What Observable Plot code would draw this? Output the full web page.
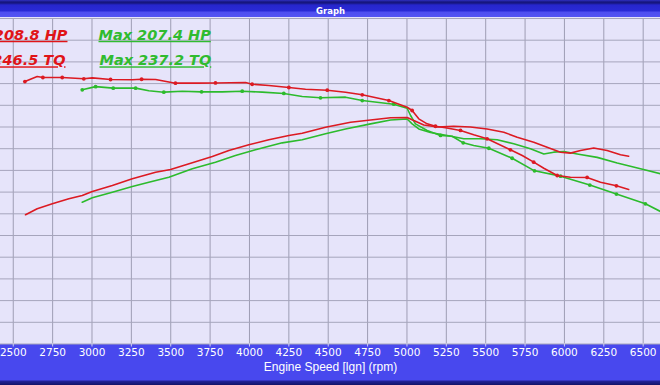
<!DOCTYPE html>
<html><head><meta charset="utf-8">
<script src="https://cdn.jsdelivr.net/npm/d3@7"></script>
<script src="https://cdn.jsdelivr.net/npm/@observablehq/plot@0.6"></script>
<style>
html,body{margin:0;padding:0;background:#e6e4fa;}
body{width:660px;height:385px;overflow:hidden;}
#chart{position:relative;width:660px;height:385px;
background: linear-gradient(to bottom, #3030c0 0px, #16167e 2px, #16167e 3px, #2626cc 5px, #2a2ad6 11px, #4e4ef0 12px, #5454f2 17px, #e6e4fa 17px, #e6e4fa 344px, #4848ee 344px, #4848ee 380px, #22229a 381px, #121266 385px);}
</style></head><body><div id="chart"></div>
<script>
// Engine speed ticks (rpm) and y grid (HP / lb-ft)
const xTicks = d3.range(2500, 6501, 250);
const yTicks = d3.range(0, 301, 20);

// Red run – torque
const redTqRpm = [2574,2652,2688,2811,2948,3002,3118,3256,3315,3404,3530,3668,3784,3975,4017,4123,4250,4356,4494,4610,4716,4885,5001,5033,5075,5128,5181,5245,5340,5424,5509,5657,5732,5805,5869,5954,6038,6144,6229,6330,6408];
const redTq = [241.9,246.5,245.6,245.6,244.4,245.3,243.8,243.5,244.0,243.8,240.4,240.4,240.6,241.0,239.4,238.2,236.4,234.8,233.9,232.1,229.7,224.4,218.2,215.2,207.5,202.9,200.7,199.3,196.8,192.8,189.1,179.0,173.7,167.6,162.0,155.3,153.7,153.5,149.1,145.8,142.4];
const redTqMarkRpm = [2574,2688,2811,2948,3118,3315,3530,3784,4017,4250,4494,4716,4885,5033,5181,5340,5509,5657,5805,5954,6144,6330];

// Red run – horsepower
const redHpRpm = [2578,2652,2748,2853,2938,3002,3129,3256,3404,3499,3637,3764,3869,3996,4123,4250,4335,4483,4610,4642,4769,4896,5001,5043,5107,5192,5297,5403,5509,5615,5700,5805,5890,5975,6038,6102,6186,6271,6356,6408];
const redHp = [119.1,124.6,129.2,133.8,136.9,140.6,146.1,152.3,158.3,160.8,167.0,172.8,178.3,183.6,188.2,192.2,194.3,199.8,203.5,204.4,206.5,208.5,208.8,206.0,201.8,200.0,200.7,200.0,198.2,195.2,190.6,186.0,181.4,176.8,175.9,178.3,180.6,178.3,174.4,173.1];

// Green run – torque
const greenTqRpm = [2938,3023,3135,3277,3361,3456,3573,3696,3827,3954,4081,4218,4335,4451,4610,4716,4916,5001,5023,5054,5128,5213,5287,5357,5424,5520,5668,5810,5975,6161,6330,6514,6610];
const greenTq = [234.3,237.2,235.8,235.8,233.4,232.1,233.0,232.4,232.4,233.0,232.1,230.9,228.1,226.9,227.5,224.4,221.0,217.3,210.6,202.9,196.8,192.2,191.5,185.4,182.9,180.4,171.2,159.6,154.7,146.5,138.2,129.2,122.1];
const greenTqMarkRpm = [2938,3023,3135,3277,3456,3696,3954,4218,4451,4716,4916,5213,5357,5520,5668,5810,5975,6161,6330,6514];

// Green run – horsepower
const greenHpRpm = [2938,3002,3129,3256,3361,3488,3637,3784,3911,4038,4208,4335,4483,4610,4769,4896,5001,5033,5075,5149,5256,5361,5467,5573,5678,5784,5869,5932,5996,6081,6208,6335,6483,6610];
const greenHp = [130.7,134.7,139.9,145.2,149.1,153.7,161.5,167.6,173.7,179.0,185.4,188.2,193.7,198.2,202.9,206.5,207.4,202.9,198.2,195.0,192.2,189.2,189.2,188.2,184.5,179.9,175.1,176.8,177.4,175.1,172.0,166.8,161.5,156.9];

const redLabels = ["Max 208.8 HP", "Max 246.5 TQ"];
const greenLabels = ["Max 207.4 HP", "Max 237.2 TQ"];
const title = "Graph";
const xLabel = "Engine Speed [lgn] (rpm)";

const RED = "#dc1a22", GREEN = "#2cbb2c";
const rows = (rpm, val) => rpm.map((r, i) => ({rpm: r, value: val[i]}));
const redTqRows = rows(redTqRpm, redTq), redHpRows = rows(redHpRpm, redHp);
const greenTqRows = rows(greenTqRpm, greenTq), greenHpRows = rows(greenHpRpm, greenHp);
const redMarks = redTqRows.filter(d => redTqMarkRpm.includes(d.rpm));
const greenMarks = greenTqRows.filter(d => greenTqMarkRpm.includes(d.rpm));

const annFont = {fontFamily: "DejaVu Sans", fontSize: 14.5, fontWeight: "bold", fontStyle: "italic", frameAnchor: "top-left"};

const chart = Plot.plot({
  width: 660, height: 385,
  marginTop: 18, marginBottom: 41.5, marginLeft: 0, marginRight: 0,
  style: {background: "transparent", color: "white", fontFamily: "DejaVu Sans", overflow: "visible"},
  x: {domain: [2419, 6610]},
  y: {domain: [0, 300], axis: null},
  marks: [
    Plot.gridX(xTicks, {stroke: "#9e9db4", strokeOpacity: 1}),
    Plot.gridY(yTicks, {stroke: "#a6a5bc", strokeOpacity: 1}),
    Plot.axisX(xTicks, {tickSize: 3, tickPadding: 2, fontSize: 10.5, label: null, tickFormat: d => String(d), stroke: "#d0d0ee"}),
    Plot.line(greenTqRows, {x: "rpm", y: "value", stroke: GREEN, strokeWidth: 1.6, clip: true}),
    Plot.line(greenHpRows, {x: "rpm", y: "value", stroke: GREEN, strokeWidth: 1.6, clip: true}),
    Plot.dot(greenMarks, {x: "rpm", y: "value", r: 1.9, fill: GREEN, clip: true}),
    Plot.line(redTqRows, {x: "rpm", y: "value", stroke: RED, strokeWidth: 1.6, clip: true}),
    Plot.line(redHpRows, {x: "rpm", y: "value", stroke: RED, strokeWidth: 1.6, clip: true}),
    Plot.dot(redMarks, {x: "rpm", y: "value", r: 1.9, fill: RED, clip: true}),
    Plot.text([redLabels[0]], {...annFont, text: d => d, textAnchor: "end", dx: 67, dy: 11, fill: "#e01418"}),
    Plot.text([redLabels[1]], {...annFont, text: d => d, textAnchor: "end", dx: 65, dy: 36.5, fill: "#e01418"}),
    Plot.text([greenLabels[0]], {...annFont, text: d => d, textAnchor: "start", dx: 98, dy: 11, fill: "#30bb30"}),
    Plot.text([greenLabels[1]], {...annFont, text: d => d, textAnchor: "start", dx: 99, dy: 36.5, fill: "#30bb30"}),
    Plot.text([title], {text: d => d, frameAnchor: "top", dy: -11, fontSize: 8.5, fontWeight: "bold", fill: "white"}),
    Plot.text([xLabel], {text: d => d, frameAnchor: "bottom", dy: 26.5, fontFamily: "Liberation Sans", fontSize: 12, fill: "white"})
  ]
});
document.getElementById("chart").appendChild(chart);
d3.select(chart).selectAll("text").filter(function() { return this.textContent.startsWith("Max"); })
  .style("text-decoration", "underline");
</script></body></html>
